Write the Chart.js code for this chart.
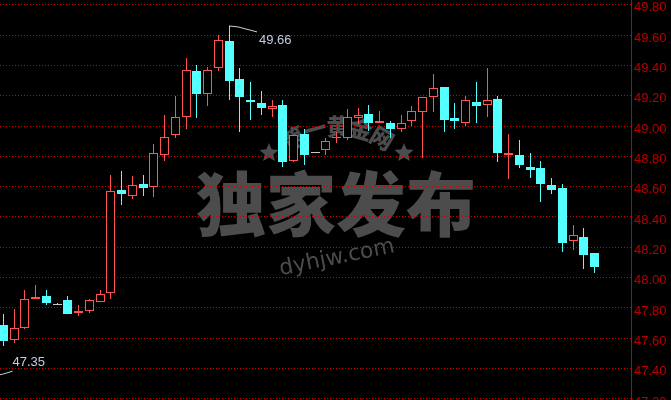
<!DOCTYPE html>
<html>
<head>
<meta charset="utf-8">
<script src="https://cdn.jsdelivr.net/npm/chart.js@4.4.0/dist/chart.umd.min.js"></script>
<style>
  html, body { margin: 0; padding: 0; background: #000; }
  #wrap { width: 671px; height: 400px; }
</style>
</head>
<body>
<div id="wrap"><canvas id="myChart"></canvas></div>
<script>
// candles, left to right
var openV  = [47.69,47.59,47.67,47.86,47.88,47.82,47.85,47.77,47.78,47.84,
              47.90,48.58,48.54,48.62,48.60,48.81,48.94,49.06,49.36,49.21,
              49.38,49.56,49.31,49.17,49.15,49.11,49.14,48.77,48.95,48.82,
              48.84,48.92,48.92,49.05,49.08,49.02,49.02,48.98,49.03,49.09,
              49.19,49.26,49.05,49.02,49.16,49.14,49.18,48.81,48.81,48.73,
              48.72,48.61,48.59,48.24,48.27,48.16];
var highV  = [47.76,47.79,47.92,47.95,47.92,47.83,47.88,47.82,47.86,47.92,
              48.68,48.70,48.67,48.68,48.88,49.07,49.20,49.45,49.40,49.39,
              49.60,49.66,49.38,49.29,49.23,49.17,49.17,48.94,48.98,48.83,
              48.92,48.96,49.11,49.12,49.14,49.10,49.03,49.07,49.13,49.19,
              49.34,49.26,49.15,49.20,49.29,49.38,49.20,48.95,48.91,48.82,
              48.77,48.66,48.62,48.35,48.33,48.16];
var lowV   = [47.55,47.57,47.66,47.86,47.82,47.82,47.76,47.75,47.77,47.84,
              47.86,48.48,48.52,48.54,48.53,48.77,48.92,48.98,49.05,49.13,
              49.36,49.17,48.96,49.04,49.07,49.06,48.73,48.76,48.74,48.82,
              48.81,48.89,48.91,49.01,48.97,49.02,48.92,48.96,49.00,48.79,
              49.09,48.96,48.98,49.00,49.02,49.06,48.76,48.65,48.72,48.66,
              48.50,48.55,48.17,48.18,48.06,48.03];
var closeV = [47.58,47.67,47.86,47.87,47.83,47.82,47.76,47.78,47.85,47.89,
              48.57,48.55,48.61,48.59,48.82,48.93,49.06,49.37,49.21,49.37,
              49.57,49.30,49.19,49.16,49.12,49.13,48.76,48.94,48.81,48.82,
              48.90,48.93,49.06,49.07,49.02,49.03,48.98,49.02,49.10,49.19,
              49.25,49.04,49.03,49.17,49.13,49.17,48.82,48.82,48.74,48.71,
              48.62,48.58,48.23,48.28,48.15,48.07];
var tickValues = [47.20,47.40,47.60,47.80,48.00,48.20,48.40,48.60,48.80,49.00,49.20,49.40,49.60,49.80];
var offscreenLow = 47.35;   // lowest low, candle just left of view

var upColor = "#ff5353", downColor = "#54ffff", flatColor = "#c8c8c8";

function candleColor(i) {
  if (closeV[i] > openV[i]) return upColor;
  if (closeV[i] < openV[i]) return downColor;
  return flatColor;
}
var colors = openV.map(function (o, i) { return candleColor(i); });
var fills = openV.map(function (o, i) { return closeV[i] > openV[i] ? "#000000" : colors[i]; });

function star(ctx, cx, cy, r) {
  ctx.beginPath();
  for (var k = 0; k < 10; k++) {
    var a = -Math.PI / 2 + k * Math.PI / 5;
    var rr = k % 2 ? r * 0.45 : r;
    ctx.lineTo(cx + rr * Math.cos(a), cy + rr * Math.sin(a));
  }
  ctx.closePath();
  ctx.fill();
}

var backdrop = {
  id: "backdrop",
  beforeDraw: function (chart) {
    var ctx = chart.ctx;
    ctx.save();
    ctx.fillStyle = "#000";
    ctx.fillRect(0, 0, chart.width, chart.height);
    ctx.fillStyle = "#4c4c4c";
    ctx.textAlign = "center";
    ctx.textBaseline = "middle";
    ctx.font = '900 70px "Noto Sans CJK SC"';
    ctx.fillText("独家发布", 336, 204);
    // arc text
    ctx.font = '900 23px "Noto Sans CJK SC"';
    var chars = "第一黄金网".split("");
    for (var k = 0; k < chars.length; k++) {
      var a = (k - 2) * 0.27;
      ctx.save();
      ctx.translate(338 + 86 * Math.sin(a), 212 - 86 * Math.cos(a));
      ctx.rotate(a);
      ctx.fillText(chars[k], 0, 0);
      ctx.restore();
    }
    star(ctx, 269, 153, 10);
    star(ctx, 404, 153, 10);
    ctx.save();
    ctx.translate(337, 258);
    ctx.rotate(-0.2);
    ctx.font = '22px "DejaVu Sans"';
    ctx.fillText("dyhjw.com", 0, 0);
    ctx.restore();
    ctx.restore();
  },
  beforeDatasetsDraw: function (chart) {
    // snap bars to whole pixels so the 1px borders and wicks stay crisp
    chart.data.datasets.forEach(function (ds, d) {
      chart.getDatasetMeta(d).data.forEach(function (el) {
        el.x = Math.floor(el.x) + 0.5;
        el.y = Math.round(el.y);
        el.base = Math.round(el.base);
        if (el.y === el.base) el.base = el.y + 1;
      });
    });
  },
  afterDatasetsDraw: function (chart) {
    var ctx = chart.ctx, xs = chart.scales.x, ys = chart.scales.y;
    ctx.save();
    ctx.strokeStyle = "#d0d0d0";
    ctx.lineWidth = 1;
    ctx.fillStyle = "#c4cce0";
    ctx.font = '13px "Liberation Sans"';
    ctx.textAlign = "left";
    // highest high
    var iMax = highV.indexOf(Math.max.apply(null, highV));
    var px = xs.getPixelForValue(iMax), py = ys.getPixelForValue(highV[iMax]);
    ctx.beginPath();
    ctx.moveTo(px, py); ctx.lineTo(px + 9, py + 1); ctx.lineTo(px + 28, py + 6);
    ctx.stroke();
    ctx.textBaseline = "top";
    ctx.fillText(highV[iMax].toFixed(2), px + 30, py + 8);
    // lowest low (off view)
    px = xs.getPixelForValue(-1); py = ys.getPixelForValue(offscreenLow);
    ctx.beginPath();
    ctx.moveTo(px, py); ctx.lineTo(px + 10, py - 2); ctx.lineTo(px + 20, py - 5);
    ctx.stroke();
    ctx.textBaseline = "bottom";
    ctx.fillText(offscreenLow.toFixed(2), px + 20, py - 7);
    ctx.restore();
  }
};

var c = new Chart("myChart", {
  type: "bar",
  data: {
    datasets: [{
      // bodies
      data: openV.map(function (o, i) { return { x: i, y: [o, closeV[i]] }; }),
      backgroundColor: fills,
      borderColor: colors,
      borderWidth: 1,
      borderSkipped: false,
      barThickness: 9,
      maxBarThickness: 9,
      minBarLength: 1,
      inflateAmount: 0,
      grouped: false
    }, {
      // wicks
      data: lowV.map(function (l, i) { return { x: i, y: [l, highV[i]] }; }),
      backgroundColor: colors,
      borderWidth: 0,
      barThickness: 1,
      maxBarThickness: 1,
      inflateAmount: 0,
      grouped: false
    }]
  },
  options: {
    responsive: true,
    maintainAspectRatio: false,
    animation: false,
    layout: { padding: 0 },
    plugins: { legend: { display: false }, tooltip: { enabled: false } },
    scales: {
      x: { type: "linear", display: false, offset: false, min: -0.307, max: 58.39 },
      y: {
        position: "right",
        min: 47.193,
        max: 49.831,
        grid: { color: "#d00000", lineWidth: 1, drawTicks: false },
        border: { display: true, color: "#c00000", width: 1, dash: [1, 2] },
        ticks: {
          color: "#b80000",
          font: { family: "Liberation Sans", size: 13 },
          padding: 3,
          labelOffset: 3,
          autoSkip: false,
          callback: function (v) { return Number(v).toFixed(2); }
        },
        afterBuildTicks: function (s) { s.ticks = tickValues.map(function (v) { return { value: v }; }); },
        afterFit: function (s) { s.width = 40; s.paddingTop = 0; s.paddingBottom = 0; }
      }
    }
  },
  plugins: [backdrop]
});
</script>
</body>
</html>
